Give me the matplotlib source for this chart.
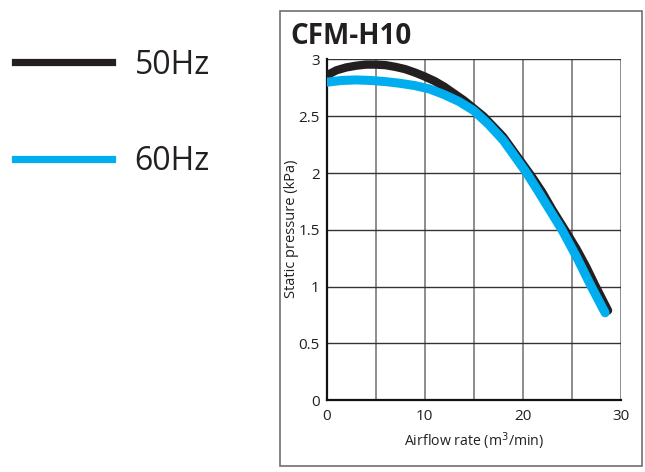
import matplotlib.pyplot as plt
from matplotlib.lines import Line2D
from matplotlib.patches import Rectangle

flow_50 = [0, 1, 2, 3, 4, 5, 6, 7, 8, 9, 10, 11, 12, 13, 14, 15, 16, 17, 18, 19, 20, 21, 22, 23, 24.3, 25.5, 26.5, 27.4, 28.7]
pres_50 = [2.86, 2.905, 2.93, 2.945, 2.955, 2.955, 2.95, 2.935, 2.915, 2.885, 2.85, 2.81, 2.76, 2.70, 2.64, 2.57, 2.50, 2.41, 2.32, 2.20, 2.08, 1.96, 1.83, 1.68, 1.5, 1.33, 1.17, 1.01, 0.79]

flow_60 = [0, 1.5, 3, 4.5, 6, 7.5, 9, 10.5, 12, 13.5, 15, 16.5, 18, 19, 20.4, 21.5, 22.5, 24, 25.5, 27, 28.4]
pres_60 = [2.80, 2.815, 2.82, 2.815, 2.805, 2.79, 2.77, 2.74, 2.69, 2.63, 2.55, 2.43, 2.29, 2.17, 2.0, 1.85, 1.71, 1.5, 1.26, 1.0, 0.77]

x_ticks = [0, 10, 20, 30]
x_grid = [0, 5, 10, 15, 20, 25, 30]
y_ticks = [0, 0.5, 1, 1.5, 2, 2.5, 3]
y_labels = ["0", "0.5", "1", "1.5", "2", "2.5", "3"]

txt = "#231f20"
black = "#231f20"
blue = "#00aeef"

plt.rcParams['font.family'] = ['Open Sans', 'DejaVu Sans']

fig = plt.figure(figsize=(6.45, 4.72), dpi=100)
ax = fig.add_axes([0.5065, 0.152, 0.456, 0.722])

# outer frame around the chart panel
fig.add_artist(Rectangle((280 / 645, 1 - 466 / 472), 362 / 645, 455 / 472,
                         transform=fig.transFigure, fill=False, edgecolor="#707070", lw=1.2))

ax.plot(flow_50, pres_50, color=black, lw=6, solid_capstyle="round", solid_joinstyle="round", zorder=3)
ax.plot(flow_60, pres_60, color=blue, lw=6.5, solid_capstyle="round", solid_joinstyle="round", zorder=4)

ax.set_xlim(0, 30)
ax.set_ylim(0, 3)
ax.set_xticks(x_ticks)
ax.set_yticks(y_ticks)
ax.set_yticklabels(y_labels)
for xv in x_grid[1:]:
    ax.axvline(xv, color="#6d6d6d", lw=1.1, zorder=1)
for yv in y_ticks[1:]:
    ax.axhline(yv, color="#333333", lw=1.0, zorder=1)
ax.tick_params(length=0, labelsize=11, labelcolor=txt)
ax.tick_params(axis="x", pad=6)
ax.tick_params(axis="y", pad=5)
for s in ["top", "right"]:
    ax.spines[s].set_visible(False)
for s in ["left", "bottom"]:
    ax.spines[s].set_color("#111111")
    ax.spines[s].set_linewidth(1.6)

ax.set_xlabel("Airflow rate (m$^3$/min)", fontsize=10.2, color=txt, labelpad=5)
ax.set_ylabel("Static pressure (kPa)", fontsize=10.5, color=txt)
ax.yaxis.set_label_coords(-0.094, 0.503)

fig.text(290 / 645, 1 - 37 / 472, "CFM-H10", fontsize=20, fontweight="bold", color=txt,
         ha="left", va="center")

handles = [Line2D([], [], color=black, lw=5.2), Line2D([], [], color=blue, lw=5.2)]
fig.legend(handles, ["50Hz", "60Hz"], loc="upper left", bbox_to_anchor=(0.003, 0.924),
           frameon=False, fontsize=23, handlelength=3.05, handletextpad=0.7,
           labelspacing=1.99, labelcolor=txt, borderaxespad=0)

fig.savefig("out.png", dpi=100)
